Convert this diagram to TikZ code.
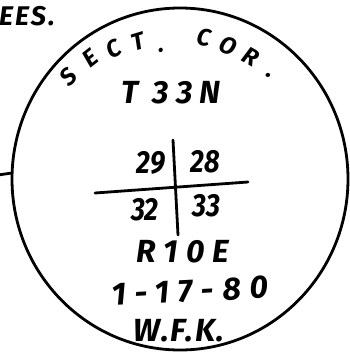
\documentclass[tikz,border=0pt]{standalone}
\usepackage{fontspec}
\setmainfont{Fira Sans}
\usetikzlibrary{shapes.geometric}
\tikzset{
  ink/.style={line width=2.8pt, line cap=round, black},
  hw/.style={inner sep=0pt, font=\fontsize{32}{32}\selectfont\bfseries\itshape},
  arcl/.style={inner sep=0pt, text depth=0pt, text height=1.45ex, font=\fontsize{24}{24}\selectfont\bfseries\itshape}
}
\begin{document}
\begin{tikzpicture}[x=1pt,y=-1pt]
\useasboundingbox (0,0) rectangle (350,356);
\clip (0,0) rectangle (350,356);
% seal circle
\node[ellipse, draw, ink, minimum width=336pt, minimum height=342pt, inner sep=0pt] (seal) at (180,179) {};
\coordinate (tickL) at (-2,175);
\coordinate (tickR) at (12,173);
\draw[ink] (tickL) -- (tickR);
% top text
\node[inner sep=0pt, anchor=east, font=\fontsize{27}{27}\selectfont\bfseries\itshape\addfontfeature{LetterSpace=8}] (ees) at (55,16) {EES.};
% arc letters
\node[arcl, rotate=45] (s1) at (72,80) {S};
\node[arcl, rotate=38] (s2) at (93,62) {E};
\node[arcl, rotate=28] (s3) at (116,53) {C};
\node[arcl, rotate=17] (s4) at (139,46) {T};
\node[arcl, rotate=9] (s5) at (161,48) {.};
\node[arcl, rotate=-10] (c1) at (203,42) {C};
\node[arcl, rotate=-22] (c2) at (227,50) {O};
\node[arcl, rotate=-29] (c3) at (249,61) {R};
\node[arcl, rotate=-37] (c4) at (270,74) {.};
% township
\node[hw, font=\fontsize{32}{32}\selectfont\bfseries\itshape\addfontfeature{LetterSpace=22}] (twp) at (171,93) {T 33N};
% section numbers
\node[hw, xscale=0.85] (n29) at (151,163) {29};
\node[hw, xscale=0.85] (n28) at (205,162) {28};
\node[hw, xscale=0.85] (n32) at (145,210) {32};
\node[hw, xscale=0.85] (n33) at (206,206) {33};
\coordinate (vt) at (173,140);
\coordinate (vb) at (178,235);
\coordinate (hl) at (95,193);
\coordinate (hr) at (248,182);
\draw[ink] (vt) -- (vb);
\draw[ink] (hl) -- (hr);
% range, date, initials
\node[hw, font=\fontsize{32}{32}\selectfont\bfseries\itshape\addfontfeature{LetterSpace=25}] (rng) at (183,252) {R10E};
\node[hw, rotate=3, font=\fontsize{32}{32}\selectfont\bfseries\itshape\addfontfeature{LetterSpace=28}] (date) at (190,291) {1-17-80};
\node[hw, font=\fontsize{32}{32}\selectfont\bfseries\itshape\addfontfeature{LetterSpace=6}] (wfk) at (179,331) {W.F.K.};
\end{tikzpicture}
\end{document}
